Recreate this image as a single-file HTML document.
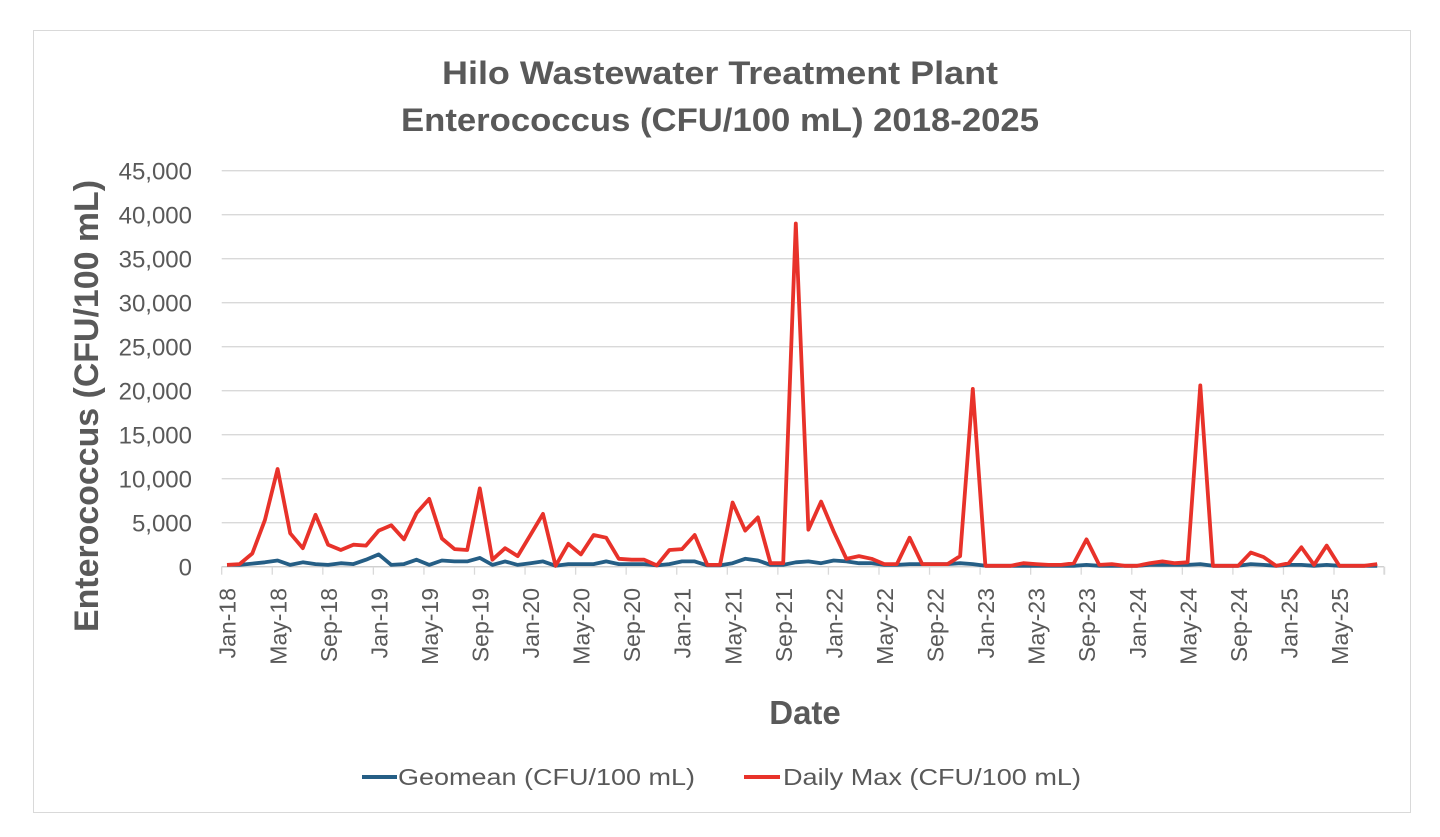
<!DOCTYPE html>
<html><head><meta charset="utf-8"><style>
html,body{margin:0;padding:0;background:#fff;}
body{width:1440px;height:832px;overflow:hidden;}
</style></head><body>
<svg id="s" width="1440" height="832" xmlns="http://www.w3.org/2000/svg" font-family="'Liberation Sans', sans-serif">
<rect x="33.5" y="30.5" width="1377" height="782" fill="#fff" stroke="#d9d9d9" stroke-width="1"/>
<g id="grid" stroke="#d9d9d9" stroke-width="1.3"></g>
<g id="ylab" fill="#595959" font-size="24" text-anchor="end"></g>
<g id="xlab" fill="#595959" font-size="23"></g>
<text x="720" y="84" text-anchor="middle" font-size="32" font-weight="bold" fill="#595959" textLength="556" lengthAdjust="spacingAndGlyphs">Hilo Wastewater Treatment Plant</text>
<text x="720" y="131" text-anchor="middle" font-size="32" font-weight="bold" fill="#595959" textLength="638" lengthAdjust="spacingAndGlyphs">Enterococcus (CFU/100 mL) 2018-2025</text>
<text transform="translate(98,406) rotate(-90)" text-anchor="middle" font-size="34" font-weight="bold" fill="#595959" textLength="452" lengthAdjust="spacingAndGlyphs">Enterococcus (CFU/100 mL)</text>
<text x="805" y="724" text-anchor="middle" font-size="33" font-weight="bold" fill="#595959">Date</text>
<line x1="362" y1="777" x2="397" y2="777" stroke="#255e85" stroke-width="4"/>
<text x="398" y="785" font-size="23" fill="#595959" textLength="297" lengthAdjust="spacingAndGlyphs">Geomean (CFU/100 mL)</text>
<line x1="744" y1="777" x2="780" y2="777" stroke="#e8322a" stroke-width="4"/>
<text x="783" y="785" font-size="23" fill="#595959" textLength="298" lengthAdjust="spacingAndGlyphs">Daily Max (CFU/100 mL)</text>
<path id="geo" fill="none" stroke="#255e85" stroke-width="3.8" stroke-linejoin="round"/>
<path id="mx" fill="none" stroke="#e8322a" stroke-width="3.8" stroke-linejoin="round"/>
</svg>
<script>
var NS="http://www.w3.org/2000/svg";
function el(p,t,a,txt){var e=document.createElementNS(NS,t);for(var k in a)e.setAttribute(k,a[k]);if(txt)e.textContent=txt;p.appendChild(e);return e;}
var y0=566.7,py=396/45000;
var g=document.getElementById('grid'),yl=document.getElementById('ylab'),xl=document.getElementById('xlab');
for(var i=0;i<=9;i++){var y=y0-i*5000*py;el(g,'line',{x1:221.7,x2:1384,y1:y,y2:y});
el(yl,'text',{x:192,y:y+9},i==0?'0':(i*5).toString()+',000');}
el(g,'line',{x1:221.7,x2:1384,y1:y0,y2:y0,stroke:'#d0d0d0'});
var m=['Jan','May','Sep'];
for(var i=0;i<=23;i++){var x=221.7+i*4*12.64;el(g,'line',{x1:x,x2:x,y1:y0,y2:y0+8});
var yr=18+Math.floor(i/3);if(i<23){var lx=x+14;el(xl,'text',{transform:'translate('+lx+',588) rotate(-90)','text-anchor':'end'},m[i%3]+'-'+yr);}}
el(g,'line',{x1:1384,x2:1384,y1:y0,y2:y0+8});
var mx=[0.2,0.3,1.5,5.3,11.1,3.8,2.1,5.9,2.5,1.9,2.5,2.4,4.1,4.7,3.1,6.1,7.7,3.2,2.0,1.9,8.9,0.8,2.1,1.2,3.6,6.0,0.1,2.6,1.4,3.6,3.3,
0.9,0.8,0.8,0.15,1.9,2.0,3.6,0.2,0.2,7.3,4.1,5.6,0.4,0.4,39,4.2,7.4,4.0,0.9,1.2,0.9,0.3,0.3,3.3,0.3,0.3,0.3,1.2,20.2,0.1,0.1,
0.1,0.4,0.3,0.2,0.2,0.4,3.1,0.2,0.3,0.1,0.1,0.4,0.6,0.4,0.5,20.6,0.1,0.1,0.1,1.6,1.1,0.1,0.4,2.2,0.2,2.4,0.1,0.1,0.1,0.3];
var ge=[0.2,0.2,0.35,0.5,0.7,0.2,0.5,0.3,0.2,0.4,0.3,0.8,1.4,0.2,0.3,0.8,0.2,0.7,0.6,0.6,1.0,0.2,0.6,0.2,0.4,0.6,0.1,0.3,0.3,0.3,0.6,
0.3,0.3,0.3,0.15,0.3,0.6,0.6,0.15,0.15,0.4,0.9,0.7,0.2,0.2,0.5,0.6,0.4,0.7,0.6,0.4,0.4,0.2,0.2,0.3,0.3,0.3,0.3,0.4,0.3,0.1,0.1,
0.1,0.1,0.1,0.1,0.1,0.1,0.2,0.1,0.1,0.1,0.1,0.2,0.2,0.2,0.2,0.3,0.1,0.1,0.1,0.3,0.2,0.1,0.2,0.2,0.1,0.2,0.1,0.1,0.1,0.1];
function path(d){return d.map(function(v,i){return (i?'L':'M')+(227+i*12.64).toFixed(1)+','+(y0-v*1000*py).toFixed(1);}).join('');}
document.getElementById('mx').setAttribute('d',path(mx));
document.getElementById('geo').setAttribute('d',path(ge));
</script>
</body></html>
